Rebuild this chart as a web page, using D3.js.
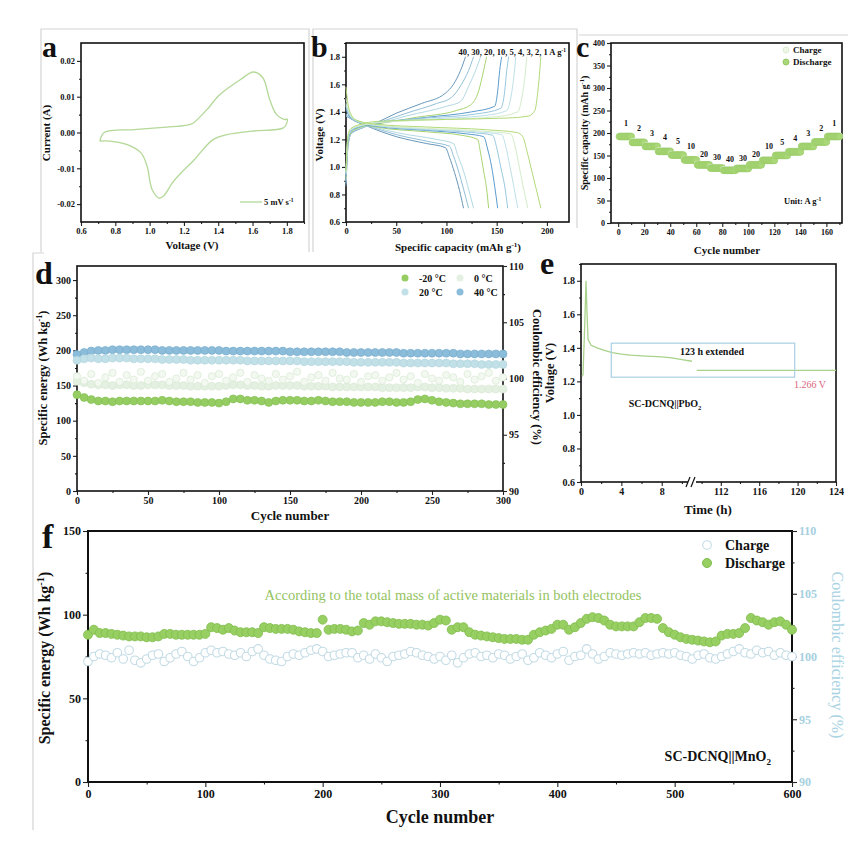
<!DOCTYPE html>
<html>
<head>
<meta charset="utf-8">
<script src="https://cdn.jsdelivr.net/npm/d3@7"></script>
<style>
body { margin: 0; background: #fff; }
svg text { font-family: "Liberation Serif", "Times New Roman", serif; }
</style>
</head>
<body>
<script>
// ---------- data ----------
// a: CV loop at 5 mV/s
const cvVolt = [0.71,0.735,0.91,1.10,1.21,1.25,1.334,1.41,1.53,1.605,1.66,1.70,1.74,1.79,1.80,1.80,1.78,1.60,1.45,1.37,1.26,1.14,1.08,1.055,1.015,0.985,0.95,0.87,0.77,0.71];
const cvCurr = [-0.0024,0.0,0.0008,0.0015,0.002,0.0025,0.0064,0.0106,0.0148,0.0169,0.0153,0.0092,0.005,0.0036,0.0038,0.0027,0.0013,0.0004,-0.0006,-0.002,-0.0076,-0.0136,-0.0178,-0.0183,-0.016,-0.0094,-0.0057,-0.0034,-0.0024,-0.0024];

// b: GCD curves, [capacity, voltage]
const rateLabels = ["40", "30", "20", "10", "5", "4", "3", "2", "1"];
const chargeCurves = [
  [[0,0.86],[2,1.15],[5,1.24],[15,1.28],[30,1.32],[50,1.39],[75,1.46],[99,1.536],[107,1.6],[114,1.7],[119,1.8]],
  [[0,0.88],[2,1.16],[5,1.24],[15,1.28],[30,1.315],[60,1.39],[90,1.46],[105,1.505],[115,1.6],[122,1.7],[127,1.8]],
  [[0,0.9],[2,1.17],[5,1.25],[15,1.285],[30,1.31],[60,1.37],[100,1.44],[114,1.475],[123,1.6],[129,1.7],[134,1.8]],
  [[0,0.92],[2,1.18],[5,1.25],[15,1.29],[30,1.31],[70,1.36],[110,1.41],[124,1.45],[132,1.55],[137,1.7],[140,1.8]],
  [[0,0.93],[2,1.19],[5,1.26],[15,1.295],[30,1.315],[80,1.36],[125,1.4],[148,1.44],[151,1.55],[153,1.7],[155,1.8]],
  [[0,0.94],[2,1.2],[5,1.265],[15,1.3],[30,1.32],[80,1.355],[130,1.385],[154,1.425],[158,1.55],[160,1.7],[162,1.8]],
  [[0,0.95],[2,1.21],[5,1.27],[15,1.3],[30,1.32],[90,1.35],[140,1.375],[160,1.41],[164,1.5],[167,1.65],[169,1.8]],
  [[0,0.96],[2,1.22],[5,1.275],[15,1.3],[30,1.32],[100,1.345],[150,1.365],[171,1.4],[175,1.5],[178,1.65],[180,1.8]],
  [[0,0.97],[2,1.23],[5,1.28],[15,1.31],[30,1.33],[100,1.345],[160,1.355],[182,1.37],[188,1.41],[191,1.55],[194,1.8]]
];
const dischargeCurves = [
  [[0,1.37],[5,1.35],[20,1.3],[50,1.22],[80,1.17],[99,1.14],[103,1.07],[108,0.96],[113,0.83],[117,0.7]],
  [[0,1.37],[5,1.35],[20,1.305],[50,1.235],[85,1.18],[103,1.15],[107,1.08],[112,0.97],[117,0.84],[122,0.7]],
  [[0,1.38],[5,1.355],[20,1.31],[50,1.25],[90,1.2],[107,1.17],[111,1.09],[117,0.97],[122,0.84],[127,0.7]],
  [[0,1.45],[3,1.38],[10,1.33],[30,1.29],[80,1.255],[115,1.23],[131,1.2],[134,1.1],[137,0.97],[140,0.84],[142,0.7]],
  [[0,1.42],[3,1.37],[10,1.33],[30,1.295],[80,1.265],[120,1.24],[137,1.22],[141,1.13],[145,1.0],[148,0.86],[151,0.7]],
  [[0,1.44],[3,1.38],[10,1.33],[30,1.3],[80,1.27],[125,1.25],[146,1.23],[150,1.14],[154,1.0],[158,0.86],[161,0.7]],
  [[0,1.46],[3,1.39],[10,1.335],[30,1.3],[80,1.275],[130,1.255],[155,1.235],[159,1.15],[163,1.01],[167,0.86],[171,0.7]],
  [[0,1.5],[3,1.4],[10,1.34],[30,1.305],[80,1.28],[135,1.26],[164,1.24],[168,1.16],[172,1.02],[176,0.87],[181,0.7]],
  [[0,1.58],[3,1.42],[10,1.34],[30,1.31],[80,1.29],[140,1.27],[170,1.25],[176,1.22],[180,1.12],[184,1.0],[189,0.85],[194,0.7]]
];
const rateColors = ["#6896b9", "#93bfd6", "#b3d9e4", "#a8d46f", "#5d9ccd", "#98c8df", "#bde0e8", "#d4ecca", "#b2da78"];

// c: rate performance, 10 cycles per step
const cSteps = ["1","2","3","4","5","10","20","30","40","30","20","10","5","4","3","2","1"];
const cDischarge = [192,179,170,159,151,140,129,122,117,121,129,139,150,158,170,180,192];
const cCharge = [193,180,171,160,152,141,130,123,118,122,130,140,151,159,171,181,193];

// d: specific energy at four temperatures, every 5 cycles
const dCycles = d3.range(0, 301, 5);
const dMinus20 = [137,133,130,128,128,127,128,128,128,128,128,128,129,128,127,127,127,126,126,126,125,127,131,131,129,129,128,126,128,129,129,129,128,128,129,128,127,127,127,126,126,126,126,127,127,126,126,127,130,131,129,127,126,125,124,124,124,124,123,123,123];
const d0 = [156,154,152,151,151,150,151,151,150,150,151,151,151,150,150,150,149,149,149,149,149,150,151,151,150,150,149,149,150,150,150,150,149,149,149,149,148,148,148,148,148,148,148,147,147,147,147,147,148,148,147,147,146,146,146,145,145,145,145,145,145];
const d20 = [186,188,189,188,188,189,189,189,188,188,188,188,187,187,187,187,186,186,186,186,186,186,186,186,185,185,185,185,185,185,185,185,184,184,184,184,184,184,184,183,183,183,183,183,183,183,182,182,182,182,182,182,182,181,181,181,181,180,180,180,180];
const d40 = [194,197,199,200,200,201,201,201,201,201,201,201,200,200,200,200,200,200,200,200,200,199,199,199,199,199,199,199,199,199,198,198,198,198,198,198,198,198,197,197,197,197,197,197,197,197,196,196,196,196,196,196,196,196,195,195,195,195,195,195,195];
const dCE = [100.2,99.8,100.4,99.6,100.1,100.5,99.7,100.3,99.9,100.6,99.8,100.2,100.4,99.7,100.0,100.5,99.9,100.3,99.6,100.2,100.4,99.8,100.1,100.5,99.7,100.3,100.0,99.8,100.4,99.9,100.2,100.6,99.7,100.1,100.3,99.8,100.5,100.0,99.9,100.4,99.7,100.2,100.3,99.8,100.1,100.5,99.9,100.2,99.6,100.4,100.0,99.8,100.3,100.1,99.7,100.4,99.9,100.2,100.5,99.8,100.1];
const dTemps = ["-20 \u00b0C", "0 \u00b0C", "20 \u00b0C", "40 \u00b0C"];

// e: voltage vs time (broken axis)
const eTime1 = [0.1,0.2,0.35,0.5,0.6,0.7,1.0,1.6,2.3,3.1,4.0,4.9,6.0,7.0,8.0,9.0,10.0,11.0];
const eVolt1 = [1.23,1.24,1.5,1.8,1.6,1.45,1.415,1.40,1.385,1.372,1.362,1.356,1.352,1.349,1.346,1.34,1.33,1.32];
const eTime2 = [109.5, 124];
const eVolt2 = [1.266, 1.266];

// f: long cycling, every 5 cycles
const fCycles = d3.range(0, 601, 5);
const fDischarge = [88,91,89,89,88.5,88,87.5,87,87,87,86.5,86.5,87,88.5,88.5,88,88,88,88,88,88.5,92.5,92,91,92,90.5,89.5,89.5,89.5,89,92.5,92,91.5,91.5,91.5,91,90,89.5,89,89,97,91,91.5,91.5,91,90,90.5,95,94,96,96,95.5,95,94.5,94.5,94.5,94,94,93.5,95,97,96.5,91,92.5,92.5,89.5,88,87.5,87,86.5,86,85.5,85.5,85.5,85,85,88,89.5,90.5,91.5,94,94,91,92.5,95,97.5,98.5,98,96.5,94,93,93,93,93,95.5,98,98,97.5,92,89.5,88,86.5,85.5,85,84.5,84,83.5,84,87.5,88.5,88.5,89,92,98,96.5,95.5,94,95.5,96,94,91];
const fChargeCE = [99.6,100.0,100.2,100.1,99.9,100.3,99.8,100.5,99.7,99.5,99.8,100.1,100.2,99.6,99.9,100.2,100.4,100.0,99.6,99.9,100.3,100.5,100.3,100.4,100.2,100.1,100.3,100.0,100.4,100.6,100.1,99.8,99.7,99.6,100.0,100.2,100.1,100.3,100.5,100.6,100.4,100.0,100.1,100.2,100.3,100.3,99.9,100.1,99.8,100.2,99.9,99.6,100.0,100.1,100.2,100.4,100.3,100.1,100.0,99.8,100.0,99.7,100.1,99.5,99.9,100.2,100.3,100.0,100.1,99.9,100.2,100.1,99.8,100.0,100.2,99.7,99.9,100.3,100.1,99.9,100.2,100.4,99.7,100.0,100.1,100.6,100.2,99.8,100.0,100.3,100.2,100.1,100.2,100.3,100.2,100.3,100.1,100.2,100.3,100.2,100.3,100.1,100.0,99.8,100.1,100.2,99.9,99.8,100.0,100.2,100.4,100.6,100.3,100.2,100.5,100.3,100.4,100.1,100.3,100.1,100.0];

// ---------- helpers ----------
const svg = d3.select("body").append("svg")
  .attr("width", 863)
  .attr("height", 848)
  .style("background", "#fff");

const FONT = '"Liberation Serif", "Times New Roman", serif';

// text with ^{sup} and _{sub} markup
function txt(g, x, y, s, size, o = {}) {
  const t = g.append("text")
    .attr("x", x).attr("y", y)
    .attr("font-size", size)
    .attr("font-weight", o.weight || "bold")
    .attr("fill", o.fill || "#111")
    .attr("text-anchor", o.anchor || "start");
  if (o.rotate) t.attr("transform", `rotate(${o.rotate},${x},${y})`);
  const parts = s.split(/(\^\{[^}]*\}|_\{[^}]*\})/).filter(p => p !== "");
  let shift = 0;
  parts.forEach(p => {
    let dy = 0, fs = null, str = p;
    if (p.startsWith("^{")) { str = p.slice(2, -1); dy = -size * 0.4; fs = size * 0.65; }
    else if (p.startsWith("_{")) { str = p.slice(2, -1); dy = size * 0.25; fs = size * 0.65; }
    const ts = t.append("tspan").text(str).attr("dy", dy - shift);
    if (fs) ts.attr("font-size", fs);
    shift = dy;
  });
  return t;
}

function styleAxis(a, fs, col) {
  a.attr("font-family", FONT).attr("font-size", fs).attr("font-weight", "bold");
  a.selectAll("text").attr("fill", col || "#111");
  a.selectAll("line").attr("stroke", "#222").attr("stroke-width", 1.1);
  a.select(".domain").remove();
}

function frame(g, x, y, o) {
  const [xl, xr] = d3.extent(x.range()), [yt, yb] = d3.extent(y.range());
  const fs = o.fs || 9, tk = o.tk || 4;
  const xf = o.xf || (d => d), yf = o.yf || (d => d);
  const bx = g.append("g").attr("transform", `translate(0,${yb})`)
    .call(d3.axisBottom(x).tickValues(o.xt).tickSize(tk).tickPadding(2).tickFormat(xf));
  styleAxis(bx, fs);
  if (o.xm) {
    const mx = g.append("g").attr("transform", `translate(0,${yb})`)
      .call(d3.axisBottom(x).tickValues(o.xm).tickSize(tk / 2).tickFormat(""));
    styleAxis(mx, fs);
  }
  const ly = g.append("g").attr("transform", `translate(${xl},0)`)
    .call(d3.axisLeft(y).tickValues(o.yt).tickSize(tk).tickPadding(2).tickFormat(yf));
  styleAxis(ly, fs);
  if (o.ym) {
    const my = g.append("g").attr("transform", `translate(${xl},0)`)
      .call(d3.axisLeft(y).tickValues(o.ym).tickSize(tk / 2).tickFormat(""));
    styleAxis(my, fs);
  }
  g.append("rect")
    .attr("x", xl).attr("y", yt)
    .attr("width", xr - xl).attr("height", yb - yt)
    .attr("fill", "none").attr("stroke", "#111").attr("stroke-width", o.sw || 1.6);
}

function rightAxis(g, y, xr, ticks, minor, fs, col, tk) {
  const a = g.append("g").attr("transform", `translate(${xr},0)`)
    .call(d3.axisRight(y).tickValues(ticks).tickSize(tk || 4).tickPadding(2));
  styleAxis(a, fs, col);
  const m = g.append("g").attr("transform", `translate(${xr},0)`)
    .call(d3.axisRight(y).tickValues(minor).tickSize((tk || 4) / 2).tickFormat(""));
  styleAxis(m, fs);
}

// faint panel frames
const frames = svg.append("g").attr("stroke", "#d4d4d4").attr("stroke-width", 1.2).attr("fill", "none");
frames.append("path").attr("d", "M41,252V29H309V252");
frames.append("path").attr("d", "M313,252V29H577V228");
frames.append("path").attr("d", "M579,35H848");
frames.append("path").attr("d", "M33,830V253H44");

// ---------- panel a ----------
const ga = svg.append("g");
const xa = d3.scaleLinear().domain([0.6, 1.9]).range([81, 304]);
const ya = d3.scaleLinear().domain([-0.025, 0.025]).range([222, 43]);
frame(ga, xa, ya, {
  xt: d3.range(0.6, 1.81, 0.2), xm: d3.range(0.7, 1.91, 0.2),
  yt: [-0.02, -0.01, 0, 0.01, 0.02], ym: [-0.015, -0.005, 0.005, 0.015],
  xf: d => d.toFixed(1), yf: d => d.toFixed(2), fs: 8.5
});
ga.append("path")
  .attr("d", d3.line().x((d, i) => xa(cvVolt[i])).y((d, i) => ya(cvCurr[i])).curve(d3.curveCatmullRom)(cvVolt))
  .attr("fill", "none").attr("stroke", "#b3d897").attr("stroke-width", 1.3);
ga.append("line").attr("x1", 240).attr("x2", 262).attr("y1", 202).attr("y2", 202)
  .attr("stroke", "#b3d897").attr("stroke-width", 1.3);
txt(ga, 264, 205, "5 mV s^{-1}", 8.5);
txt(ga, 50, 133, "Current (A)", 11, { anchor: "middle", rotate: -90 });
txt(ga, 192, 249, "Voltage (V)", 11, { anchor: "middle" });
txt(ga, 42, 57, "a", 30);

// ---------- panel b ----------
const gb = svg.append("g");
const xb = d3.scaleLinear().domain([0, 222]).range([346, 569]);
const yb = d3.scaleLinear().domain([0.6, 1.9]).range([222, 43]);
frame(gb, xb, yb, {
  xt: [0, 50, 100, 150, 200], xm: [25, 75, 125, 175],
  yt: d3.range(0.6, 1.81, 0.2), ym: d3.range(0.7, 1.91, 0.2),
  yf: d => d.toFixed(1), fs: 8.5
});
const lineB = d3.line().x(d => xb(d[0])).y(d => yb(d[1])).curve(d3.curveMonotoneX);
rateLabels.forEach((r, i) => {
  gb.append("path").attr("d", lineB(chargeCurves[i]))
    .attr("fill", "none").attr("stroke", rateColors[i]).attr("stroke-width", 1);
  gb.append("path").attr("d", lineB(dischargeCurves[i]))
    .attr("fill", "none").attr("stroke", rateColors[i]).attr("stroke-width", 1);
});
txt(gb, 566, 55, rateLabels.join(", ") + " A g^{-1}", 8.5, { anchor: "end" });
txt(gb, 323, 135, "Voltage (V)", 11, { anchor: "middle", rotate: -90 });
txt(gb, 458, 251, "Specific capacity (mAh g^{-1})", 11, { anchor: "middle" });
txt(gb, 311, 57, "b", 30);

// ---------- panel c ----------
const gc = svg.append("g");
const xc = d3.scaleLinear().domain([-5.5, 172]).range([611, 842]);
const yc = d3.scaleLinear().domain([0, 400]).range([223, 43]);
frame(gc, xc, yc, {
  xt: d3.range(0, 161, 20), xm: d3.range(10, 171, 20),
  yt: d3.range(0, 401, 50), ym: d3.range(25, 400, 50), fs: 8
});
cSteps.forEach((s, i) => {
  const cyc = d3.range(i * 10 + 1, i * 10 + 11);
  gc.selectAll(null).data(cyc).join("circle")
    .attr("cx", d => xc(d)).attr("cy", yc(cCharge[i])).attr("r", 3.4)
    .attr("fill", "#eef6e8").attr("stroke", "#dcebd2").attr("stroke-width", 0.5);
  gc.selectAll(null).data(cyc).join("circle")
    .attr("cx", d => xc(d)).attr("cy", yc(cDischarge[i])).attr("r", 3.4)
    .attr("fill", "#aad777").attr("stroke", "#93c862").attr("stroke-width", 0.5);
  const up = (i >= 6 && i <= 10) ? 8 : 11;
  txt(gc, xc(i * 10 + 6), yc(cDischarge[i]) - up, s, 8, { anchor: "middle" });
});
gc.append("circle").attr("cx", 786).attr("cy", 50).attr("r", 3).attr("fill", "#eef6e8").attr("stroke", "#dcebd2");
gc.append("circle").attr("cx", 786).attr("cy", 62).attr("r", 3).attr("fill", "#aad777").attr("stroke", "#93c862");
txt(gc, 793, 53, "Charge", 9);
txt(gc, 793, 65, "Discharge", 9);
txt(gc, 784, 204, "Unit: A g^{-1}", 8.5);
txt(gc, 588, 133, "Specific capacity (mAh g^{-1})", 10, { anchor: "middle", rotate: -90 });
txt(gc, 727, 254, "Cycle number", 11, { anchor: "middle" });
txt(gc, 576, 57, "c", 30);

// ---------- panel d ----------
const gd = svg.append("g");
const xd = d3.scaleLinear().domain([0, 300]).range([77, 503]);
const yd = d3.scaleLinear().domain([0, 320]).range([491, 266]);
const yd2 = d3.scaleLinear().domain([90, 110]).range([491, 266]);
frame(gd, xd, yd, {
  xt: d3.range(0, 301, 50), xm: d3.range(25, 300, 50),
  yt: d3.range(0, 301, 50), ym: d3.range(25, 320, 50), fs: 10
});
rightAxis(gd, yd2, 503, [90, 95, 100, 105, 110], [92.5, 97.5, 102.5, 107.5], 10, "#111");
const dSeries = [
  { v: d40, fill: "#8bbcd9", stroke: "#76abcc" },
  { v: d20, fill: "#c2e0e7", stroke: "#afd3dd" },
  { v: d0, fill: "#e4f0e1", stroke: "#d6e8d2" }
];
dSeries.forEach(s => {
  gd.selectAll(null).data(dCycles).join("circle")
    .attr("cx", d => xd(d)).attr("cy", (d, i) => yd(s.v[i])).attr("r", 4)
    .attr("fill", s.fill).attr("stroke", s.stroke).attr("stroke-width", 0.6);
});
gd.selectAll(null).data(dCycles).join("circle")
  .attr("cx", d => xd(d)).attr("cy", (d, i) => yd2(dCE[i])).attr("r", 3.6)
  .attr("fill", "#f3f8f0").attr("stroke", "#d7e9d2").attr("stroke-width", 0.7);
gd.selectAll(null).data(dCycles).join("circle")
  .attr("cx", d => xd(d)).attr("cy", (d, i) => yd(dMinus20[i])).attr("r", 4)
  .attr("fill", "#95cd62").attr("stroke", "#82be50").attr("stroke-width", 0.6);
const dLeg = [
  { x: 405, y: 278, fill: "#95cd62" }, { x: 460, y: 278, fill: "#e4f0e1" },
  { x: 405, y: 292, fill: "#c2e0e7" }, { x: 460, y: 292, fill: "#8bbcd9" }
];
dTemps.forEach((t, i) => {
  gd.append("circle").attr("cx", dLeg[i].x).attr("cy", dLeg[i].y).attr("r", 3.5).attr("fill", dLeg[i].fill);
  txt(gd, dLeg[i].x + 14, dLeg[i].y + 3.5, t, 10);
});
txt(gd, 47, 378, "Specific energy (Wh kg^{-1})", 12.5, { anchor: "middle", rotate: -90 });
txt(gd, 533, 377, "Coulombic efficiency (%)", 12.5, { anchor: "middle", rotate: 90 });
txt(gd, 290, 520, "Cycle number", 13, { anchor: "middle" });
txt(gd, 35, 284, "d", 32);

// ---------- panel e ----------
const ge = svg.append("g");
const xe = d3.scaleLinear().domain([0, 11, 109, 124]).range([581, 692, 692, 836]);
const ye = d3.scaleLinear().domain([0.6, 1.9]).range([482, 264]);
frame(ge, xe, ye, {
  xt: [0, 4, 8, 112, 116, 120, 124], xm: [2, 6, 10, 110, 114, 118, 122],
  yt: d3.range(0.6, 1.81, 0.2), ym: d3.range(0.7, 1.91, 0.2),
  yf: d => d.toFixed(1), fs: 10
});
// axis break
ge.append("rect").attr("x", 688).attr("y", 478).attr("width", 8).attr("height", 8).attr("fill", "#fff");
[688, 693].forEach(bx => {
  ge.append("line").attr("x1", bx - 2).attr("y1", 487).attr("x2", bx + 2).attr("y2", 477)
    .attr("stroke", "#111").attr("stroke-width", 1.2);
});
const lineE = d3.line().x(d => xe(d[0])).y(d => ye(d[1]));
ge.append("path").attr("d", lineE(eTime1.map((t, i) => [t, eVolt1[i]])))
  .attr("fill", "none").attr("stroke", "#a8d28a").attr("stroke-width", 1.3);
ge.append("path").attr("d", lineE(eTime2.map((t, i) => [t, eVolt2[i]])))
  .attr("fill", "none").attr("stroke", "#a8d28a").attr("stroke-width", 1.3);
ge.append("rect")
  .attr("x", xe(3)).attr("y", ye(1.428))
  .attr("width", xe(119.7) - xe(3)).attr("height", ye(1.225) - ye(1.428))
  .attr("fill", "none").attr("stroke", "#a9cfe3").attr("stroke-width", 1.2);
txt(ge, 712, 355, "123 h extended", 10, { anchor: "middle" });
txt(ge, 794, 388, "1.266 V", 10, { fill: "#d9657e", weight: "normal" });
txt(ge, 665, 407, "SC-DCNQ||PbO_{2}", 10, { anchor: "middle" });
txt(ge, 554, 373, "Voltage (V)", 12.5, { anchor: "middle", rotate: -90 });
txt(ge, 708, 514, "Time (h)", 13, { anchor: "middle" });
txt(ge, 540, 274, "e", 32);

// ---------- panel f ----------
const gf = svg.append("g");
const xf = d3.scaleLinear().domain([0, 600]).range([88, 792]);
const yf = d3.scaleLinear().domain([0, 150]).range([782, 531]);
const yf2 = d3.scaleLinear().domain([90, 110]).range([782, 531]);
frame(gf, xf, yf, {
  xt: d3.range(0, 601, 100), xm: d3.range(50, 600, 100),
  yt: [0, 50, 100, 150], ym: [25, 75, 125], fs: 12, tk: 5, sw: 2
});
rightAxis(gf, yf2, 792, [90, 95, 100, 105, 110], [92.5, 97.5, 102.5, 107.5], 12, "#a6d0e1", 5);
gf.selectAll(null).data(fCycles).join("circle")
  .attr("cx", d => xf(d)).attr("cy", (d, i) => yf2(fChargeCE[i])).attr("r", 4.3)
  .attr("fill", "#fff").attr("stroke", "#c3dbe5").attr("stroke-width", 1.1);
gf.selectAll(null).data(fCycles).join("circle")
  .attr("cx", d => xf(d)).attr("cy", (d, i) => yf(fDischarge[i])).attr("r", 4.5)
  .attr("fill", "#98cf63").attr("stroke", "#7fbd4b").attr("stroke-width", 0.8);
gf.append("circle").attr("cx", 707).attr("cy", 545).attr("r", 4.3).attr("fill", "#fff").attr("stroke", "#c3dbe5").attr("stroke-width", 1.1);
gf.append("circle").attr("cx", 707).attr("cy", 563).attr("r", 4.5).attr("fill", "#98cf63").attr("stroke", "#7fbd4b");
txt(gf, 725, 550, "Charge", 14);
txt(gf, 725, 568, "Discharge", 14);
txt(gf, 453, 600, "According to the total mass of active materials in both electrodes", 14.5, { anchor: "middle", fill: "#94c35f", weight: "normal" });
txt(gf, 771, 761, "SC-DCNQ||MnO_{2}", 14, { anchor: "end" });
txt(gf, 50, 658, "Specific energy (Wh kg^{-1})", 16, { anchor: "middle", rotate: -90 });
txt(gf, 832, 655, "Coulombic efficiency (%)", 16, { anchor: "middle", rotate: 90, fill: "#a9d3e3", weight: "normal" });
txt(gf, 440, 823, "Cycle number", 18, { anchor: "middle" });
txt(gf, 42, 548, "f", 34);
</script>
</body>
</html>
